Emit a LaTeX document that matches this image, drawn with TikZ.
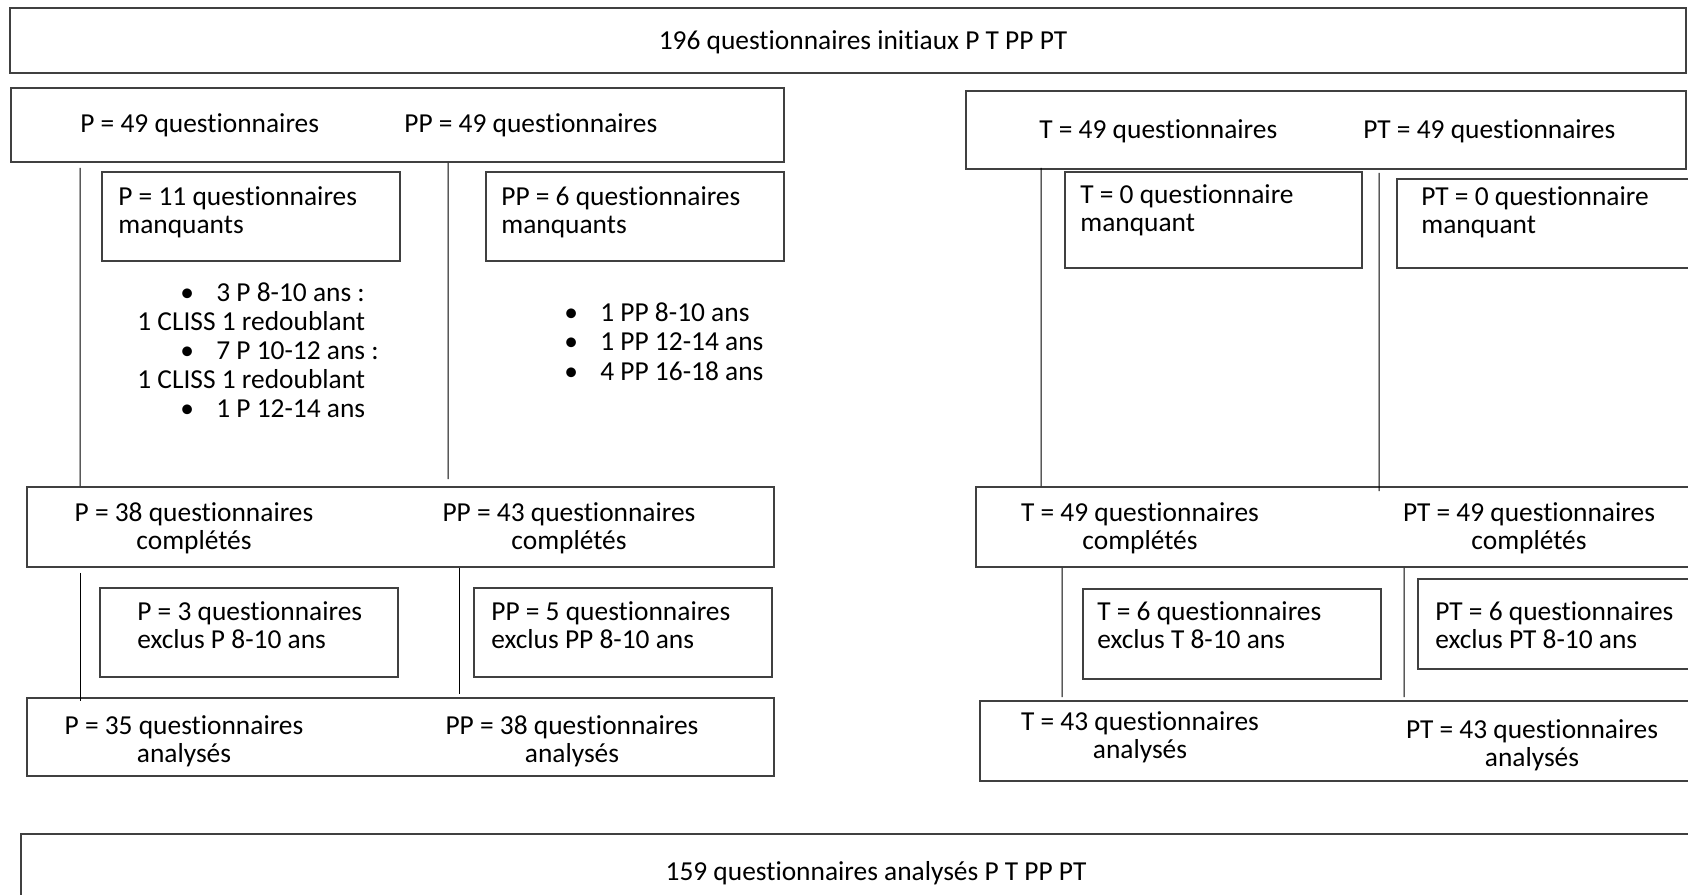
\documentclass[tikz,border=0pt]{standalone}
\usepackage{fontspec}
\setmainfont[Ligatures={NoCommon,NoContextual,NoRequired}]{Carlito}
\usetikzlibrary{calc}
\definecolor{bordgris}{RGB}{64,64,64}
\newcommand{\puce}[1]{\makebox[0.72cm][l]{\textbullet}#1}

\begin{document}
\begin{tikzpicture}[x=0.02cm,y=-0.02cm,
  every node/.style={font=\fontsize{15.6pt}{15.9pt}\selectfont,inner sep=0pt},
  boite/.style={draw=bordgris,line width=1.1pt},
  trait/.style={draw=black,line width=0.6pt}]
\useasboundingbox (0,0) rectangle (1688,895);
\clip (0,0) rectangle (1688,895);
% effectif initial
\node[boite,minimum width=33.52cm,minimum height=1.30cm] (init) at (848,40.5) {};
\node (initT) at (863,42) {196 questionnaires initiaux P T PP PT};
% groupes P et PP
\node[boite,minimum width=15.46cm,minimum height=1.48cm] (pp49) at (397.5,125) {};
\node[anchor=west] (p49T) at (80,125) {P = 49 questionnaires};
\node[anchor=west] (pp49T) at (404,125) {PP = 49 questionnaires};
% groupes T et PT
\node[boite,minimum width=14.4cm,minimum height=1.56cm] (pt49) at (1326,130) {};
\node[anchor=west] (t49T) at (1039,131) {T = 49 questionnaires};
\node[anchor=west] (pt49T) at (1363,131) {PT = 49 questionnaires};
% manquants
\node[boite,minimum width=5.96cm,minimum height=1.78cm] (p11) at (251,216.5) {};
\node[anchor=north west,align=left] (p11T) at (118,186) {P = 11 questionnaires\\manquants};
\node[boite,minimum width=5.96cm,minimum height=1.78cm] (pp6) at (635,216.5) {};
\node[anchor=north west,align=left] (pp6T) at (501,186) {PP = 6 questionnaires\\manquants};
\node[boite,minimum width=5.94cm,minimum height=1.92cm] (t0) at (1213.5,220) {};
\node[anchor=north west,align=left] (t0T) at (1080,184) {T = 0 questionnaire\\manquant};
\node[boite,minimum width=6.06cm,minimum height=1.78cm] (pt0) at (1548.5,223.5) {};
\node[anchor=north west,align=left] (pt0T) at (1421,186) {PT = 0 questionnaire\\manquant};
% detail des manquants
\node[anchor=north west,align=left,font=\fontsize{15.6pt}{16.5pt}\selectfont] (p11D) at (137,282)
  {\hspace*{0.86cm}\puce{3 P 8-10 ans :}\\1 CLISS 1 redoublant\\
   \hspace*{0.86cm}\puce{7 P 10-12 ans :}\\1 CLISS 1 redoublant\\
   \hspace*{0.86cm}\puce{1 P 12-14 ans}};
\node[anchor=north west,align=left,font=\fontsize{15.6pt}{17pt}\selectfont] (pp6D) at (564,302)
  {\puce{1 PP 8-10 ans}\\\puce{1 PP 12-14 ans}\\\puce{4 PP 16-18 ans}};
% completes
\node[boite,minimum width=14.94cm,minimum height=1.6cm] (c38) at (400.5,527) {};
\node[anchor=north,align=center] (c38T) at (194,502) {P = 38 questionnaires\\complétés};
\node[anchor=north,align=center] (c43T) at (569,502) {PP = 43 questionnaires\\complétés};
\node[boite,minimum width=14.48cm,minimum height=1.6cm] (c49) at (1338,527) {};
\node[anchor=north,align=center] (ct49T) at (1140,502) {T = 49 questionnaires\\complétés};
\node[anchor=north,align=center] (cpt49T) at (1529,502) {PT = 49 questionnaires\\complétés};
% exclus
\node[boite,minimum width=5.96cm,minimum height=1.78cm] (p3) at (249,632.5) {};
\node[anchor=north west,align=left] (p3T) at (137,601) {P = 3 questionnaires\\exclus P 8-10 ans};
\node[boite,minimum width=5.96cm,minimum height=1.78cm] (pp5) at (623,632.5) {};
\node[anchor=north west,align=left] (pp5T) at (491,601) {PP = 5 questionnaires\\exclus PP 8-10 ans};
\node[boite,minimum width=5.96cm,minimum height=1.8cm] (t6) at (1232,634) {};
\node[anchor=north west,align=left] (t6T) at (1097,601) {T = 6 questionnaires\\exclus T 8-10 ans};
\node[boite,minimum width=5.64cm,minimum height=1.8cm] (pt6) at (1559,624) {};
\node[anchor=north west,align=left] (pt6T) at (1435,601) {PT = 6 questionnaires\\exclus PT 8-10 ans};
% analyses
\node[boite,minimum width=14.94cm,minimum height=1.56cm] (a35) at (400.5,737) {};
\node[anchor=north,align=center] (a35T) at (184,715) {P = 35 questionnaires\\analysés};
\node[anchor=north,align=center] (a38T) at (572,715) {PP = 38 questionnaires\\analysés};
\node[boite,minimum width=14.4cm,minimum height=1.6cm] (a43) at (1340,741) {};
\node[anchor=north,align=center] (at43T) at (1140,711) {T = 43 questionnaires\\analysés};
\node[anchor=north,align=center] (apt43T) at (1532,719) {PT = 43 questionnaires\\analysés};
% effectif final
\node[boite,minimum width=33.58cm,minimum height=1.52cm] (fin) at (860.5,872) {};
\node (finT) at (876,873) {159 questionnaires analysés P T PP PT};
% traits
\draw[trait] ($(pp49.south west)+(70,5)$) -- ($(c38.north west)+(54,0)$);
\draw[trait] ($(pp49.south west)+(438,0)$) -- ($(c38.north west)+(422,-7)$);
\draw[trait] ($(pt49.south west)+(76,-2)$) -- ($(c49.north west)+(66,0)$);
\draw[trait] ($(pt49.south west)+(414,3)$) -- ($(c49.north west)+(404,5)$);
\draw[trait] ($(c38.south west)+(54,5)$) -- ($(a35.north west)+(54,4)$);
\draw[trait] ($(c38.south west)+(433,0)$) -- ($(a35.north west)+(433,-3)$);
\draw[trait] ($(c49.south west)+(87,0)$) -- ($(a43.north west)+(83,-3)$);
\draw[trait] ($(c49.south west)+(429,0)$) -- ($(a43.north west)+(425,-3)$);
\end{tikzpicture}
\end{document}
